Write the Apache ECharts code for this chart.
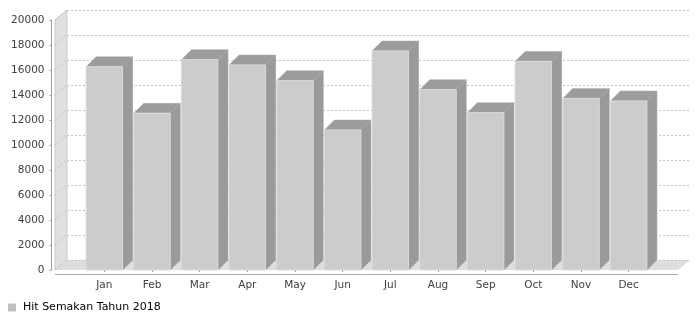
<!DOCTYPE html>
<html>
<head>
<meta charset="utf-8">
<script src="https://cdn.jsdelivr.net/npm/echarts@6/dist/echarts.min.js"></script>
<style>html,body{margin:0;padding:0;background:#fff}#c{width:700px;height:320px}</style>
</head>
<body>
<div id="c"></div>
<script>
const months = ['Jan','Feb','Mar','Apr','May','Jun','Jul','Aug','Sep','Oct','Nov','Dec'];
const hits = [16260, 12540, 16830, 16400, 15150, 11200, 17520, 14430, 12590, 16690, 13730, 13520];
const yTicks = [0, 2000, 4000, 6000, 8000, 10000, 12000, 14000, 16000, 18000, 20000];
const seriesName = 'Hit Semakan Tahun 2018';

const FONT = 'DejaVu Sans';
const DX = 12, DY = 10;      // wall depth
const BDX = 10, BDY = 10;    // bar depth

const chart = echarts.init(document.getElementById('c'), null, {renderer: 'canvas'});

function wallItem(params, api) {
  const cs = params.coordSys;
  const x = cs.x, y = cs.y, w = cs.width, h = cs.height;
  const children = [];
  children.push({type: 'polygon', shape: {points: [[x - DX, y + DY], [x, y], [x, y + h], [x - DX, y + h + DY]]},
    style: {fill: '#e0e0e0', stroke: '#cccccc', lineWidth: 1}});
  children.push({type: 'polygon', shape: {points: [[x - DX, y + h + DY], [x, y + h], [x + w, y + h], [x + w - DX, y + h + DY]]},
    style: {fill: '#dedede', stroke: null}});
  yTicks.forEach(v => {
    const p = api.coord([0, v]);
    children.push({type: 'line', shape: {x1: x - DX, y1: p[1] + DY, x2: x, y2: p[1]},
      style: {stroke: '#c0c0c0', lineWidth: 1, lineDash: [2, 2]}});
  });
  children.push({type: 'line', shape: {x1: x - DX, y1: y + h + DY + 4.5, x2: x + w - DX, y2: y + h + DY + 4.5},
    style: {stroke: '#a8a8a8', lineWidth: 1}});
  return {type: 'group', children: children};
}

function barItem(params, api) {
  const idx = api.value(0), val = api.value(1);
  const t = api.coord([idx, val]);
  const b = api.coord([idx, 0]);
  const bw = api.size([1, 0])[0] * 0.765;
  const x0 = t[0] - bw / 2, x1 = t[0] + bw / 2;
  return {type: 'group', children: [
    {type: 'polygon', shape: {points: [[x1, t[1]], [x1 + BDX, t[1] - BDY], [x1 + BDX, b[1] - BDY], [x1, b[1]]]},
      style: {fill: '#9a9a9a', stroke: '#959595', lineWidth: 0.5}},
    {type: 'polygon', shape: {points: [[x0, t[1]], [x0 + BDX, t[1] - BDY], [x1 + BDX, t[1] - BDY], [x1, t[1]]]},
      style: {fill: '#9c9c9c', stroke: '#aaaaaa', lineWidth: 0.5}},
    {type: 'rect', shape: {x: x0, y: t[1], width: bw, height: b[1] - t[1]},
      style: {fill: '#cccccc', stroke: '#dadada', lineWidth: 1}}
  ]};
}

const option = {
  animation: false,
  backgroundColor: '#ffffff',
  textStyle: {fontFamily: FONT},
  legend: {
    data: [{name: seriesName, icon: 'rect'}],
    left: 8, top: 302, padding: 0,
    itemWidth: 8, itemHeight: 8,
    textStyle: {fontFamily: FONT, fontSize: 11, color: '#000', padding: [0, 0, 0, 2]}
  },
  grid: [
    {left: 67, right: 10, top: 10, height: 250},
    {left: 80.5, right: 47.5, top: 20, height: 250}
  ],
  xAxis: [
    {type: 'category', gridIndex: 0, data: months, show: false},
    {type: 'category', gridIndex: 1, data: months, offset: 4,
      axisLine: {show: false},
      axisTick: {show: true, alignWithLabel: true, length: 2, lineStyle: {color: '#999'}},
      axisLabel: {fontFamily: FONT, fontSize: 10.5, color: '#404040', margin: 6}}
  ],
  yAxis: [
    {type: 'value', gridIndex: 0, min: 0, max: 20000, interval: 2000, z: 3,
      axisLine: {show: false}, axisTick: {show: false}, axisLabel: {show: false},
      splitLine: {show: true, lineStyle: {color: '#c4c4c4', width: 1, type: [2, 2]}}},
    {type: 'value', gridIndex: 1, min: 0, max: 20000, interval: 2000, offset: 29,
      axisLine: {show: true, lineStyle: {color: '#a0a0a0'}},
      axisTick: {show: true, length: 2, lineStyle: {color: '#a0a0a0'}},
      axisLabel: {fontFamily: FONT, fontSize: 10.5, color: '#404040', margin: 7,
        formatter: v => String(v)},
      splitLine: {show: false}}
  ],
  series: [
    {type: 'custom', name: '_wall', xAxisIndex: 0, yAxisIndex: 0, z: 1, silent: true,
      renderItem: wallItem, data: [[0, 0]]},
    {type: 'custom', name: seriesName, xAxisIndex: 1, yAxisIndex: 1, z: 5,
      itemStyle: {color: '#c0c0c0'},
      renderItem: barItem,
      encode: {x: 0, y: 1},
      data: hits.map((v, i) => [i, v])}
  ]
};
chart.setOption(option);
</script>
</body>
</html>
